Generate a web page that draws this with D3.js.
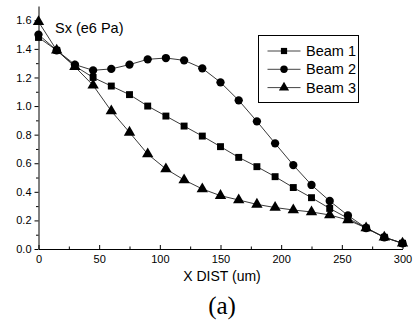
<!DOCTYPE html>
<html>
<head>
<meta charset="utf-8">
<script src="https://cdn.jsdelivr.net/npm/d3@7"></script>
<style>
  body { margin: 0; background: #fff; }
  svg { display: block; font-family: "Liberation Sans", Arial, sans-serif; }
  .axis path, .axis line { stroke: #000; }
  .axis text { font-size: 11px; fill: #000; font-family: "Liberation Sans", Arial, sans-serif; }
</style>
</head>
<body>
<div id="chart"></div>
<script>
// x positions (um)
const xDist = [0, 15, 30, 45, 60, 75, 90, 105, 120, 135, 150, 165, 180, 195, 210, 225, 240, 255, 270, 285, 300];
// Sx (e6 Pa)
const beam1 = [1.48, 1.39, 1.28, 1.20, 1.14, 1.08, 1.00, 0.93, 0.86, 0.79, 0.716, 0.641, 0.576, 0.506, 0.43, 0.359, 0.284, 0.215, 0.147, 0.082, 0.04];
const beam2 = [1.50, 1.39, 1.29, 1.25, 1.26, 1.29, 1.327, 1.336, 1.32, 1.264, 1.166, 1.04, 0.893, 0.739, 0.587, 0.448, 0.336, 0.235, 0.147, 0.082, 0.04];
const beam3 = [1.59, 1.39, 1.275, 1.145, 0.965, 0.816, 0.664, 0.56, 0.483, 0.42, 0.373, 0.343, 0.312, 0.29, 0.273, 0.259, 0.238, 0.203, 0.147, 0.082, 0.04];
const seriesNames = ["Beam 1", "Beam 2", "Beam 3"];
const xTicks = [0, 50, 100, 150, 200, 250, 300];
const yTicks = [0.0, 0.2, 0.4, 0.6, 0.8, 1.0, 1.2, 1.4, 1.6];

const w = 416, h = 324;
const svg = d3.select("#chart").append("svg").attr("width", w).attr("height", h);

const x = d3.scaleLinear().domain([0, 300]).range([38.5, 402.5]);
const y = d3.scaleLinear().domain([0, 1.7]).range([249, 6]);

// minor ticks
svg.append("g").attr("class", "axis")
  .attr("transform", `translate(0,${y(0)})`)
  .call(d3.axisBottom(x).tickValues(d3.range(25, 300, 50)).tickSize(-2.5).tickFormat(""))
  .call(g => g.select(".domain").remove());
svg.append("g").attr("class", "axis")
  .attr("transform", `translate(${x(0)},0)`)
  .call(d3.axisLeft(y).tickValues(d3.range(0.1, 1.7, 0.2)).tickSize(2.5).tickFormat(""))
  .call(g => g.select(".domain").remove());

// major axes
svg.append("g").attr("class", "axis")
  .attr("transform", `translate(0,${y(0)})`)
  .call(d3.axisBottom(x).tickValues(xTicks).tickSizeInner(-4).tickSizeOuter(0).tickPadding(6).tickFormat(d3.format("d")));
svg.append("g").attr("class", "axis")
  .attr("transform", `translate(${x(0)},0)`)
  .call(d3.axisLeft(y).tickValues(yTicks).tickSizeInner(4).tickSizeOuter(0).tickPadding(3).tickFormat(d3.format(".1f")));

const line = d3.line().x((d, i) => x(xDist[i])).y(d => y(d));

const symbols = [d3.symbolSquare, d3.symbolCircle, d3.symbolTriangle];
const sizes = [48, 54, 56];
const allSeries = [beam1, beam2, beam3];

allSeries.forEach((vals, k) => {
  svg.append("path")
    .datum(vals)
    .attr("d", line)
    .attr("fill", "none")
    .attr("stroke", "#222")
    .attr("stroke-width", 0.9);
});
allSeries.forEach((vals, k) => {
  svg.selectAll(".m" + k)
    .data(vals)
    .enter()
    .append("path")
    .attr("class", "m" + k)
    .attr("transform", (d, i) => `translate(${x(xDist[i])},${y(d)})`)
    .attr("d", d3.symbol().type(symbols[k]).size(sizes[k]))
    .attr("fill", "#000");
});

// y title
svg.append("text")
  .attr("x", 55).attr("y", 33)
  .attr("font-size", 14.5)
  .text("Sx (e6 Pa)");

// x title
svg.append("text")
  .attr("x", 222).attr("y", 281)
  .attr("text-anchor", "middle")
  .attr("font-size", 14)
  .text("X DIST (um)");

svg.append("text")
  .attr("x", 222).attr("y", 314)
  .attr("text-anchor", "middle")
  .attr("font-family", "'Liberation Serif', 'Times New Roman', serif")
  .attr("font-size", 25)
  .text("(a)");

// legend
const legend = svg.append("g").attr("id", "legend");
legend.append("rect")
  .attr("x", 258.5).attr("y", 35.5)
  .attr("width", 100).attr("height", 67)
  .attr("fill", "#fff").attr("stroke", "#000").attr("stroke-width", 1);

seriesNames.forEach((name, k) => {
  const ry = 51 + k * 18.3;
  legend.append("line")
    .attr("x1", 267.5).attr("x2", 300.5)
    .attr("y1", ry).attr("y2", ry)
    .attr("stroke", "#444").attr("stroke-width", 1);
  legend.append("path")
    .attr("transform", `translate(284,${ry})`)
    .attr("d", d3.symbol().type(symbols[k]).size(sizes[k] * 0.8))
    .attr("fill", "#000");
  legend.append("text")
    .attr("x", 306).attr("y", ry + 5)
    .attr("font-size", 14.5)
    .text(name);
});
</script>
</body>
</html>
